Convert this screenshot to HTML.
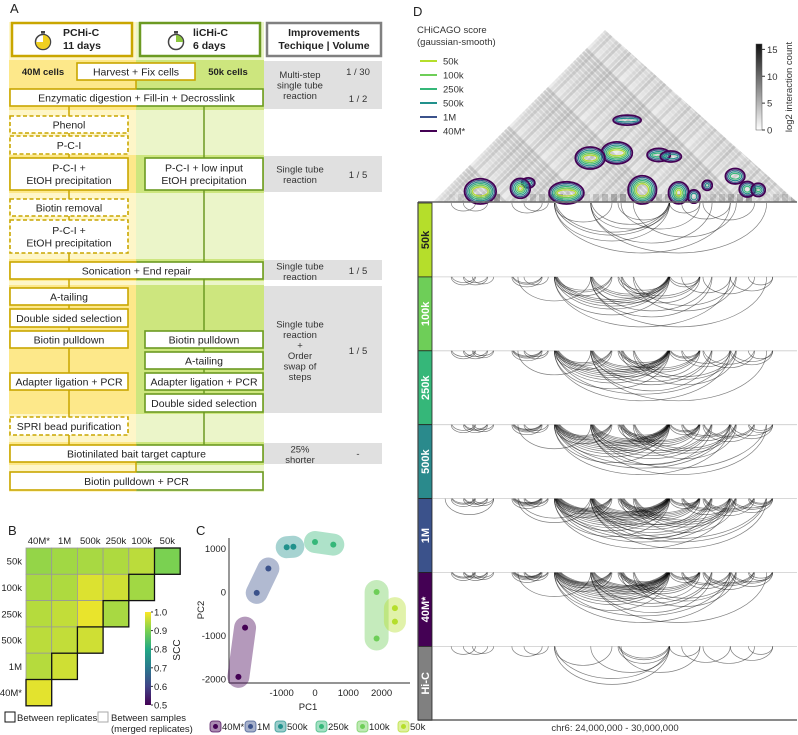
<!DOCTYPE html>
<html><head><meta charset="utf-8"><style>
html,body{margin:0;padding:0;background:#fff;}
svg{display:block;font-family:"Liberation Sans",Arial,sans-serif;}
</style></head><body>
<svg id="fig" width="798" height="735" viewBox="0 0 798 735" xmlns="http://www.w3.org/2000/svg">
<defs>
<linearGradient id="bothStroke" x1="0" x2="1" y1="0" y2="0"><stop offset="0.5" stop-color="#c9a600"/><stop offset="0.5" stop-color="#6c9a22"/></linearGradient>
<linearGradient id="greyBar" x1="0" x2="0" y1="0" y2="1"><stop offset="0" stop-color="#111"/><stop offset="0.5" stop-color="#888"/><stop offset="1" stop-color="#fff"/></linearGradient>
<linearGradient id="virBar" x1="0" x2="0" y1="1" y2="0"><stop offset="0" stop-color="#440154"/><stop offset="0.2" stop-color="#414487"/><stop offset="0.4" stop-color="#2a788e"/><stop offset="0.6" stop-color="#22a884"/><stop offset="0.8" stop-color="#7ad151"/><stop offset="1" stop-color="#fde725"/></linearGradient>
<clipPath id="triClip"><polygon points="433,202 605,30 797,202"/></clipPath>
</defs>
<g id="panelA"></g>
<g id="panelB"></g>
<g id="panelC"></g>
<g id="panelD"></g>
</svg>
<script>
// ===== Panel B data =====
const sccSamples = ["40M*","1M","500k","250k","100k","50k"];
const sccRows = ["50k","100k","250k","500k","1M","40M*"];
const sccValues = [
  [0.92,0.93,0.935,0.94,0.95,0.90],
  [0.935,0.94,0.975,0.965,0.93],
  [0.945,0.955,0.985,0.935],
  [0.95,0.955,0.965],
  [0.945,0.965],
  [0.98]
];
const sccTicks = [1.0,0.9,0.8,0.7,0.6,0.5];
// ===== Panel C data =====
const pcaGroups = ["40M*","1M","500k","250k","100k","50k"];
const pc1 = [[-2300,-2100],[-1750,-1400],[-850,-650],[0,550],[1850,1850],[2400,2400]];
const pc2 = [[-1950,-820],[-20,540],[1030,1040],[1150,1090],[0,-1070],[-370,-680]];
const pcXTicks = [-1000,0,1000,2000];
const pcYTicks = [1000,0,-1000,-2000];
// ===== Panel D data =====
const tracks = ["50k","100k","250k","500k","1M","40M*","Hi-C"];
const arcStart = [24.30,24.50,24.65,25.30,25.50,26.00,26.00,26.60,27.05,26.60,27.10,27.30,27.90,28.10,28.45,28.90,29.20,26.00,26.60,25.40,24.20];
const arcEnd   = [24.70,24.90,25.00,25.80,25.90,27.90,26.95,27.90,27.90,28.60,28.40,29.00,28.40,28.90,29.30,29.60,29.60,28.90,29.50,26.60,25.00];
const arcWeights = [
  [1,1,0,1,1,3,1,2,1,1,1,1,1,1,1,0,0,1,1,0,0],
  [2,2,1,3,1,6,3,4,2,2,3,2,2,1,1,1,1,1,1,1,0],
  [2,2,2,4,2,8,4,5,3,3,4,3,3,2,2,2,1,2,1,1,0],
  [2,3,2,5,2,10,5,6,4,4,5,4,3,3,3,2,2,3,2,1,0],
  [3,3,2,6,3,12,6,7,5,5,6,5,4,4,4,3,3,4,3,2,1],
  [3,3,2,6,3,12,6,7,5,3,5,3,4,3,4,3,2,2,1,1,0],
  [1,1,1,1,1,2,1,1,3,0,1,0,1,1,1,1,1,0,0,0,0]
];
const blobMid  = [27.03,26.59,25.57,24.78,25.44,26.20,27.45,28.05,28.98,29.18,27.20,27.72,27.92,28.52,29.36,28.30];
const blobSpan = [1.62,1.45,0.63,0.35,0.45,0.30,0.40,0.30,0.85,0.42,2.70,1.55,1.50,0.55,0.40,0.18];
const blobSize = [1.0,1.0,0.45,1.6,0.9,1.8,1.4,1.0,0.7,0.7,0.35,0.6,0.5,0.3,0.6,0.6];
const heatTicks = [15,10,5,0];

const NS="http://www.w3.org/2000/svg";
function mk(tag, attrs, parent){const e=document.createElementNS(NS,tag);for(const k in attrs)e.setAttribute(k,attrs[k]);if(parent)parent.appendChild(e);return e;}
function txt(parent,x,y,s,size,opts){opts=opts||{};const t=mk('text',{x:x,y:y,'font-size':size,'text-anchor':opts.anchor||'start',fill:opts.fill||'#222','font-weight':opts.bold?'bold':'normal'},parent);if(opts.rot)t.setAttribute('transform','rotate('+opts.rot+' '+x+' '+y+')');t.textContent=s;return t;}

// ===================== PANEL A =====================
const A=document.getElementById('panelA');
const lbl=txt(A,10,13,'A',13);


const bands=[[22,60,0],[60,110,1],[110,155,0],[155,193,1],[193,259,0],[259,281,1],[281,285,0],[285,414,1],[414,442,0],[442,465,1],[465,492,0]];
bands.forEach(b=>{
  mk('rect',{x:9,y:b[0],width:127,height:b[1]-b[0],fill:b[2]?'#fde88a':'#fef6c8'},A);
  mk('rect',{x:136,y:b[0],width:128,height:b[1]-b[0],fill:b[2]?'#cde67e':'#ebf5c9'},A);
  if(b[2]) mk('rect',{x:264,y:b[0]+1,width:118,height:b[1]-b[0]-2,fill:'#e0e0e0'},A);
});
mk('rect',{x:264,y:22,width:118,height:38,fill:'#fff'},A);
mk('line',{x1:69,y1:106,x2:69,y2:445,stroke:'#c9a600','stroke-width':1.5},A);
mk('line',{x1:204,y1:106,x2:204,y2:445,stroke:'#6c9a22','stroke-width':1.5},A);
mk('line',{x1:136,y1:80,x2:136,y2:89,stroke:'#c9a600','stroke-width':1.5},A);
mk('line',{x1:136,y1:462,x2:136,y2:472,stroke:'#c9a600','stroke-width':1.5},A);
function box(x,y,w,h,lines,st,name){
  const g=mk('g',{},A);
  
  
  const stroke=st==='g'?'#6c9a22':(st==='b'?'url(#bothStroke)':'#c9a600');
  const r=mk('rect',{x:x,y:y,width:w,height:h,fill:'#fff',stroke:stroke,'stroke-width':1.6},g);
  if(st==='yd') r.setAttribute('stroke-dasharray','4,2.5');
  const cy=y+h/2;const n=lines.length;
  lines.forEach((l,i)=>txt(g,x+w/2,cy+(i-(n-1)/2)*12.5+3.8,l,10.5,{anchor:'middle'}));
}
function watch(cx,cy,fillSweep,col){
  const g=mk('g',{},A);
  
  
  mk('rect',{x:cx-2,y:cy-11,width:4,height:2.5,fill:'#444'},g);
  mk('circle',{cx:cx,cy:cy,r:7.5,fill:'#fff',stroke:'#444','stroke-width':1.5},g);
  const a=fillSweep*2*Math.PI;const ex=cx+7*Math.sin(a),ey=cy-7*Math.cos(a);
  mk('path',{d:`M${cx},${cy} L${cx},${cy-7} A7,7 0 ${fillSweep>0.5?1:0} 1 ${ex},${ey} Z`,fill:col},g);
}
mk('rect',{x:12,y:23,width:120,height:33,fill:'#fff',stroke:'#c9a600','stroke-width':2.5},A);
watch(43,42,0.75,'#f0d020');
txt(A,63,36,'PCHi-C',10.5,{bold:true});txt(A,63,49,'11 days',10.5,{bold:true});
mk('rect',{x:140,y:23,width:120,height:33,fill:'#fff',stroke:'#6c9a22','stroke-width':2.5},A);
watch(176,42,0.25,'#8cc63f');
txt(A,193,36,'liCHi-C',10.5,{bold:true});txt(A,193,49,'6 days',10.5,{bold:true});
mk('rect',{x:267,y:23,width:114,height:33,fill:'#fff',stroke:'#808080','stroke-width':2.5},A);
txt(A,324,36,'Improvements',10.5,{bold:true,anchor:'middle'});txt(A,324,49,'Techique  |  Volume',10.5,{bold:true,anchor:'middle'});
txt(A,43,75,'40M cells',9.5,{bold:true,anchor:'middle'});
txt(A,228,75,'50k cells',9.5,{bold:true,anchor:'middle'});
box(77,63,118,17,['Harvest + Fix cells'],'y','harvest-box');
box(10,89,253,17,['Enzymatic digestion + Fill-in + Decrosslink'],'b','digestion-box');
box(10,116,118,17,['Phenol'],'yd','phenol-box');
box(10,136,118,18,['P-C-I'],'yd','pci-box');
box(10,158,118,32,['P-C-I +','EtOH precipitation'],'y','pci-etoh-box');
box(145,158,118,32,['P-C-I + low input','EtOH precipitation'],'g','pci-lowinput-box');
box(10,199,118,17,['Biotin removal'],'yd','biotin-removal-box');
box(10,220,118,33,['P-C-I +','EtOH precipitation'],'yd','pci-etoh-2-box');
box(10,262,253,17,['Sonication + End repair'],'b','sonication-box');
box(10,288,118,17,['A-tailing'],'y','a-tailing-left');
box(10,309,118,18,['Double sided selection'],'y','double-selection-left');
box(10,331,118,17,['Biotin pulldown'],'y','biotin-pulldown-left');
box(145,331,118,17,['Biotin pulldown'],'g','biotin-pulldown-right');
box(145,352,118,17,['A-tailing'],'g','a-tailing-right');
box(10,373,118,17,['Adapter ligation + PCR'],'y','adapter-left');
box(145,373,118,17,['Adapter ligation + PCR'],'g','adapter-right');
box(145,394,118,18,['Double sided selection'],'g','double-selection-right');
box(10,417,118,18,['SPRI bead purification'],'yd','spri-box');
box(10,445,253,17,['Biotinilated bait target capture'],'b','capture-box');
box(10,472,253,18,['Biotin pulldown + PCR'],'b','final-pcr-box');
function gt(lines,cy){const n=lines.length;lines.forEach((l,i)=>txt(A,300,cy+(i-(n-1)/2)*10.5+3.5,l,9.5,{anchor:'middle',fill:'#333'}));}
gt(['Multi-step','single tube','reaction'],85);txt(A,358,75,'1 / 30',9.5,{anchor:'middle',fill:'#333'});txt(A,358,102,'1 / 2',9.5,{anchor:'middle',fill:'#333'});
gt(['Single tube','reaction'],174);txt(A,358,178,'1 / 5',9.5,{anchor:'middle',fill:'#333'});
gt(['Single tube','reaction'],271);txt(A,358,274,'1 / 5',9.5,{anchor:'middle',fill:'#333'});
gt(['Single tube','reaction','+','Order','swap of','steps'],350);txt(A,358,354,'1 / 5',9.5,{anchor:'middle',fill:'#333'});
gt(['25%','shorter'],454);txt(A,358,457,'-',9.5,{anchor:'middle',fill:'#333'});

// ===================== PANEL B =====================
const B=document.getElementById('panelB');
const bl=txt(B,8,535,'B',13);


const vstops=[[0.5,[68,1,84]],[0.6,[65,68,135]],[0.7,[42,120,142]],[0.8,[34,168,132]],[0.9,[122,209,81]],[1.0,[253,231,37]]];
function vir(v){v=Math.max(0.5,Math.min(1,v));for(let i=0;i<vstops.length-1;i++){const a=vstops[i],b=vstops[i+1];if(v<=b[0]){const t=(v-a[0])/(b[0]-a[0]);const c=a[1].map((x,k)=>Math.round(x+(b[1][k]-x)*t));return 'rgb('+c.join(',')+')';}}return 'rgb(253,231,37)';}
const bx0=26,by0=548,cw=25.7,ch=26.3;
function bX(j){return bx0+j*cw;} function bY(i){return by0+i*ch;}
sccSamples.forEach((s,j)=>{const t=txt(B,bX(j)+cw/2,544,s,9.5,{anchor:'middle'});});
sccRows.forEach((s,i)=>{const t=txt(B,22,bY(i)+ch/2+3.5,s,9.5,{anchor:'end'});});
const diagCells=[];
sccValues.forEach((row,i)=>row.forEach((v,j)=>{
  const r=mk('rect',{x:bX(j),y:bY(i),width:cw,height:ch,fill:vir(v),stroke:'#999','stroke-width':0.8},B);
  
  
  if(j===row.length-1) diagCells.push([bX(j),bY(i)]);
}));
diagCells.forEach(c=>mk('rect',{x:c[0],y:c[1],width:cw,height:ch,fill:'none',stroke:'#111','stroke-width':1.3},B));
const cb=mk('rect',{x:145,y:612,width:6,height:93,fill:'url(#virBar)'},B);


sccTicks.forEach(v=>{const y=612+(1-v)/0.5*93;mk('line',{x1:151,y1:y,x2:153,y2:y,stroke:'#333'},B);txt(B,154,y+3.5,v.toFixed(1),9.5);});
const sccT=txt(B,180,650,'SCC',10,{anchor:'middle',rot:-90});


mk('rect',{x:5,y:712,width:10,height:10,fill:'#fff',stroke:'#111','stroke-width':1},B);
txt(B,17,721,'Between replicates',9.5);
mk('rect',{x:98,y:712,width:10,height:10,fill:'#fff',stroke:'#aaa','stroke-width':1},B);
txt(B,111,721,'Between samples',9.5);txt(B,111,732,'(merged replicates)',9.5);

// ===================== PANEL C =====================
const C=document.getElementById('panelC');
const cl=txt(C,196,535,'C',13);


const grpCol=['#440154','#3b528b','#21918c','#35b779','#6ece58','#b5de2b'];
function cx(v){return 315+v*0.0333;} function cy(v){return 592-v*0.0435;}
mk('line',{x1:229,y1:538,x2:229,y2:683,stroke:'#555','stroke-width':1.2},C);
mk('line',{x1:229,y1:683,x2:410,y2:683,stroke:'#555','stroke-width':1.2},C);
pcYTicks.forEach(v=>txt(C,226,cy(v)+3.5,String(v),9.5,{anchor:'end'}));
pcXTicks.forEach(v=>txt(C,cx(v),696,String(v),9.5,{anchor:'middle'}));
txt(C,308,710,'PC1',9.5,{anchor:'middle'});
txt(C,204,610,'PC2',9.5,{anchor:'middle',rot:-90});
pcaGroups.forEach((g,k)=>{
  const gg=mk('g',{},C);
  
  
  const x1=cx(pc1[k][0]),y1=cy(pc2[k][0]),x2=cx(pc1[k][1]),y2=cy(pc2[k][1]);
  mk('line',{x1:x1,y1:y1,x2:x2,y2:y2,stroke:grpCol[k],'stroke-opacity':0.4,'stroke-width':k===4?24:22,'stroke-linecap':'round'},gg);
  [[x1,y1],[x2,y2]].forEach(p=>{const c=mk('circle',{cx:p[0],cy:p[1],r:3,fill:grpCol[k]},gg);});
});
const legX=[210,245,275,316,357,398];
pcaGroups.forEach((g,k)=>{
  const lg=mk('g',{},C);
  
  
  mk('rect',{x:legX[k],y:721,width:11,height:11,rx:3,fill:grpCol[k],'fill-opacity':0.45,stroke:grpCol[k],'stroke-opacity':0.7},lg);
  mk('circle',{cx:legX[k]+5.5,cy:726.5,r:2.5,fill:grpCol[k]},lg);
  txt(lg,legX[k]+12,730,g,9.5);
});

// ===================== PANEL D =====================
const D=document.getElementById('panelD');
const dl=txt(D,413,16,'D',13);


const pxMb=364/6; function mbX(m){return 433+(m-24)*pxMb;}
const hg=mk('g',{'clip-path':'url(#triClip)'},D);


mk('rect',{x:430,y:25,width:370,height:180,fill:'#ececec'},hg);
for(let i=0;i<64;i++){
  const o=((i*37)%11)/11, x=433+i*6;
  mk('line',{x1:x,y1:202,x2:x+200,y2:2,stroke:'#888','stroke-opacity':o*0.35,'stroke-width':3},hg);
  const o2=((i*53)%13)/13;
  mk('line',{x1:x,y1:202,x2:x-200,y2:2,stroke:'#888','stroke-opacity':o2*0.35,'stroke-width':3},hg);
}
for(let i=0;i<40;i++){const x=440+i*9;mk('rect',{x:x,y:194,width:6,height:8,fill:'#555','fill-opacity':((i*29)%7)/14},hg);}
const contourCols=['#440154','#3b528b','#21918c','#35b779','#6ece58','#b5de2b'];
blobMid.forEach((m,k)=>{
  const bgp=mk('g',{},D);
  
  
  const x=mbX(m), h=blobSpan[k]/2*pxMb, y=202-h;
  const rx=Math.max(5,9*blobSize[k]+blobSpan[k]*4), ry=Math.max(5,Math.min(h+2,11*blobSize[k]));
  contourCols.forEach((c,i)=>{const d=i*1.6;if(rx-d<1.5||ry-d<1.5)return;mk('ellipse',{cx:x,cy:y,rx:rx-d,ry:ry-d,fill:'none',stroke:c,'stroke-width':i===0?1.8:1.1},bgp);});
});
txt(D,417,33,'CHiCAGO score',9.5,{fill:'#333'});txt(D,417,45,'(gaussian-smooth)',9.5,{fill:'#333'});
const legNames=['50k','100k','250k','500k','1M','40M*'];
const legCols=['#b5de2b','#6ece58','#35b779','#21918c','#3b528b','#440154'];
legNames.forEach((n,i)=>{
  const g=mk('g',{},D);
  
  
  const y=61+i*14;mk('line',{x1:420,y1:y,x2:437,y2:y,stroke:legCols[i],'stroke-width':2},g);txt(g,443,y+3.5,n,9.5,{fill:'#333'});
});
const hb=mk('rect',{x:756,y:44,width:6,height:86,fill:'url(#greyBar)',stroke:'#555','stroke-width':0.5},D);


heatTicks.forEach(v=>{const y=130-v/16*86;mk('line',{x1:762,y1:y,x2:765,y2:y,stroke:'#333'},D);txt(D,767,y+3.5,String(v),9.5,{fill:'#333'});});
txt(D,792,87,'log2 interaction count',9.5,{anchor:'middle',rot:-90,fill:'#333'});
const trackCols=['#b5de2b','#6ece58','#35b779','#2a8a8c','#3b528b','#440154','#808080'];
const tTop=203,tH=73.9;
mk('line',{x1:418,y1:202,x2:797,y2:202,stroke:'#666','stroke-width':1.5},D);
tracks.forEach((t,k)=>{
  const y0=tTop+k*tH;
  const g=mk('g',{},D);
  
  
  mk('rect',{x:418,y:y0,width:14,height:tH,fill:trackCols[k],stroke:'#222','stroke-width':0.8},g);
  txt(g,429,y0+tH/2,t,11,{anchor:'middle',rot:-90,bold:true,fill:k===0?'#222':'#fff'});
  if(k>0) mk('line',{x1:433,y1:y0,x2:797,y2:y0,stroke:'#ccc','stroke-width':0.8},g);
  arcStart.forEach((s,a)=>{
    const w=arcWeights[k][a];
    const x1=mbX(s),x2=mbX(arcEnd[a]),span=x2-x1;
    const depth=Math.min(span*0.33,50);
    for(let r=0;r<w;r++){
      const d=depth*(1-r*0.035);
      const p=mk('path',{d:`M${x1+r*0.6},${y0} A${span/2},${d} 0 0 0 ${x2-r*0.3},${y0}`,fill:'none',stroke:'#000','stroke-opacity':0.5,'stroke-width':0.7},g);
      
      
    }
  });
});
mk('line',{x1:418,y1:720,x2:797,y2:720,stroke:'#444','stroke-width':1.2},D);
mk('line',{x1:418,y1:202,x2:418,y2:720,stroke:'#444','stroke-width':1.2},D);
const xl=txt(D,615,731,'chr6: 24,000,000 - 30,000,000',9.5,{anchor:'middle',fill:'#333'});


</script>
</body></html>
